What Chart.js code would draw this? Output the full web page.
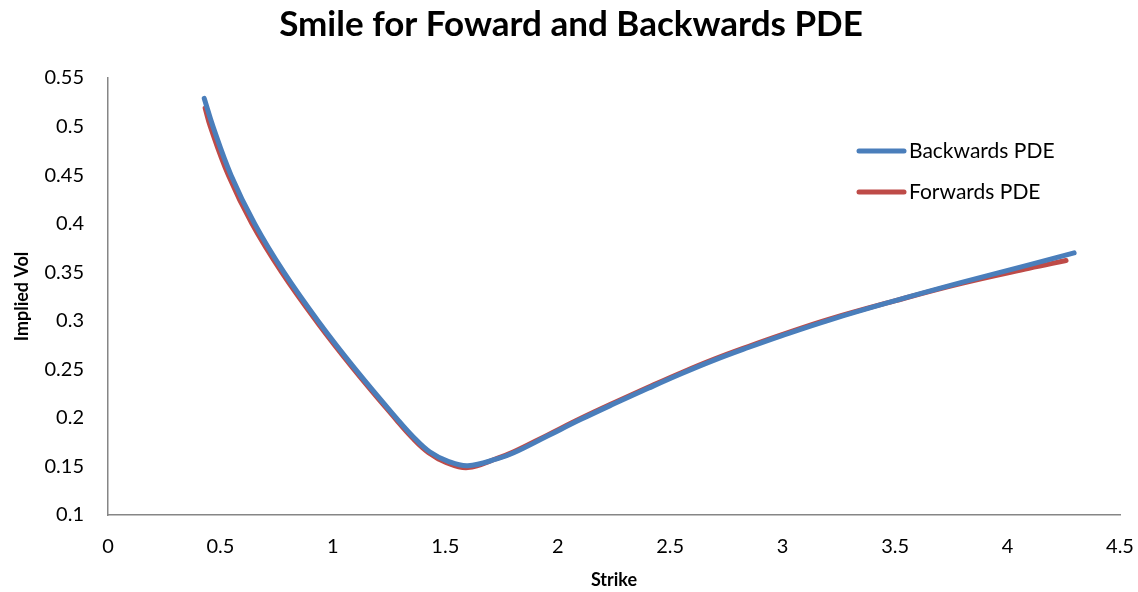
<!DOCTYPE html>
<html>
<head>
<meta charset="utf-8">
<script src="https://cdn.jsdelivr.net/npm/chart.js@4.4.1/dist/chart.umd.min.js"></script>
<style>
  html, body { margin: 0; padding: 0; background: #fff; }
  #wrap { width: 1138px; height: 592px; }
</style>
</head>
<body>
<div id="wrap"><canvas id="smileChart" width="1138" height="592"></canvas></div>
<script>
// Smile data
const backStrike = [0.428, 0.467, 0.547, 0.652, 0.782, 0.938, 1.097, 1.290, 1.360, 1.430, 1.510, 1.600, 1.733, 1.804, 1.956, 2.103, 2.250, 2.402, 2.549, 2.696, 2.847, 2.994, 3.204, 3.498, 3.796, 4.095, 4.296];
const backVol    = [0.529, 0.500, 0.450, 0.400, 0.350, 0.2985, 0.251, 0.1977, 0.1798, 0.1651, 0.1555, 0.1508, 0.158, 0.164, 0.1815, 0.1985, 0.2145, 0.2305, 0.2455, 0.2595, 0.2725, 0.2845, 0.3005, 0.3205, 0.3395, 0.3575, 0.370];
const fwdStrike  = [0.432, 0.455, 0.535, 0.640, 0.772, 0.930, 1.090, 1.283, 1.353, 1.424, 1.505, 1.600, 1.733, 1.804, 1.956, 2.103, 2.250, 2.402, 2.549, 2.696, 2.847, 2.994, 3.204, 3.498, 3.796, 4.095, 4.260];
const fwdVol     = [0.519, 0.500, 0.450, 0.400, 0.350, 0.2985, 0.251, 0.1977, 0.1795, 0.1645, 0.154, 0.1488, 0.1585, 0.165, 0.1825, 0.1995, 0.2155, 0.2315, 0.2465, 0.2605, 0.2735, 0.2855, 0.3015, 0.3205, 0.3385, 0.354, 0.362];
const seriesNames = ['Backwards PDE', 'Forwards PDE'];

const FONT = 'Lato';
const BLUE = '#4A7EBB';
const RED = '#BE4B48';

function toPoints(xs, ys) {
    return xs.map((x, i) => ({ x: x, y: ys[i] }));
}

// trims trailing zeros: 0.50 -> 0.5, 1.0 -> 1
function tickText(v) {
    return String(Math.round(v * 100) / 100);
}

// legend drawn inside the plot area, like the original
const sideLegend = {
    id: 'sideLegend',
    afterDraw(chart) {
        const ctx = chart.ctx;
        ctx.save();
        chart.data.datasets.forEach((ds, i) => {
            const y = 151 + i * 41;
            ctx.strokeStyle = ds.borderColor;
            ctx.lineWidth = 5;
            ctx.lineCap = 'round';
            ctx.beginPath();
            ctx.moveTo(859, y);
            ctx.lineTo(904, y);
            ctx.stroke();
            ctx.fillStyle = '#000';
            ctx.font = '21px ' + FONT;
            ctx.textBaseline = 'middle';
            ctx.fillText(ds.label, 909, y);
        });
        ctx.restore();
    }
};

Chart.defaults.font.family = FONT;
Chart.defaults.color = '#000';

const ctx = document.getElementById('smileChart').getContext('2d');
new Chart(ctx, {
    type: 'scatter',
    data: {
        datasets: [{
            label: seriesNames[0],
            data: toPoints(backStrike, backVol),
            borderColor: BLUE,
            backgroundColor: BLUE,
            borderWidth: 5,
            showLine: true,
            pointRadius: 0,
            tension: 0.4,
            borderCapStyle: 'round'
        }, {
            label: seriesNames[1],
            data: toPoints(fwdStrike, fwdVol),
            borderColor: RED,
            backgroundColor: RED,
            borderWidth: 5,
            showLine: true,
            pointRadius: 0,
            tension: 0.4,
            borderCapStyle: 'round'
        }]
    },
    options: {
        responsive: false,
        animation: false,
        layout: { padding: { left: 10, right: 6, top: 0, bottom: 0 } },
        plugins: {
            legend: { display: false },
            tooltip: { enabled: false },
            title: {
                display: true,
                text: 'Smile for Foward and Backwards PDE',
                font: { size: 35, weight: 'bold', family: FONT },
                color: '#000',
                padding: { top: 4, bottom: 32 }
            }
        },
        scales: {
            x: {
                type: 'linear',
                min: 0,
                max: 4.5,
                afterFit(scale) {
                    scale.height = 77;
                    scale.paddingRight = 18;
                },
                ticks: { stepSize: 0.5, font: { size: 20 }, padding: 20, maxRotation: 0, callback: tickText },
                grid: { display: false, drawTicks: false },
                border: { color: '#868686', width: 1.5 },
                title: { display: true, text: 'Strike', font: { size: 18, weight: 'bold' }, padding: { top: 0, bottom: 1 } }
            },
            y: {
                min: 0.1,
                max: 0.55,
                afterFit(scale) { scale.width = 98; },
                ticks: { stepSize: 0.05, font: { size: 20 }, padding: 24, callback: tickText },
                grid: { display: false, drawTicks: false },
                border: { color: '#868686', width: 1.5 },
                title: { display: true, text: 'Implied Vol', font: { size: 18, weight: 'bold' }, padding: { top: 1, bottom: 0 } }
            }
        }
    },
    plugins: [sideLegend]
});
</script>
</body>
</html>
